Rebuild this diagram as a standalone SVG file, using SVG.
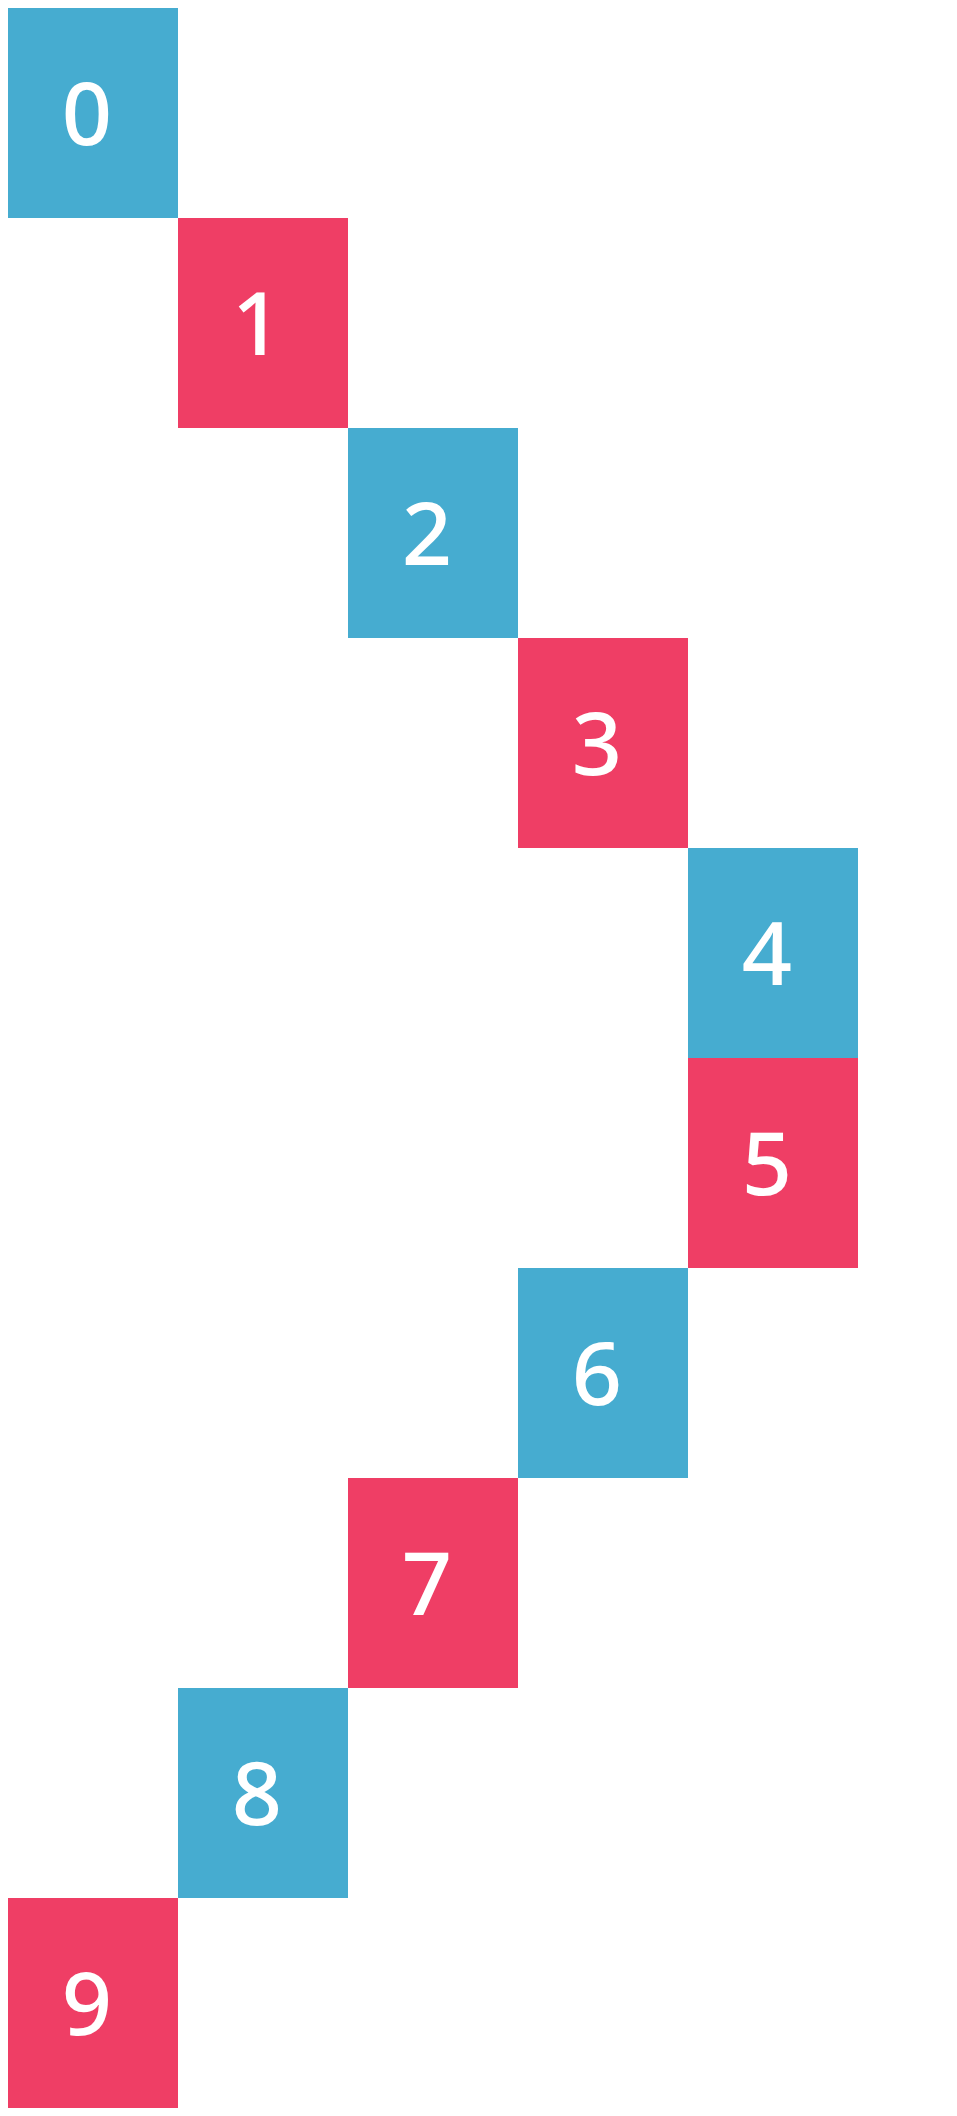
<svg xmlns="http://www.w3.org/2000/svg" width="957" height="2116" viewBox="0 0 957 2116">
<style>
.b{fill:#46acd0}.r{fill:#ef3e65}
text{font-family:"Noto Sans","DejaVu Sans",sans-serif;font-size:88px;font-weight:500;fill:#fff;text-anchor:middle}
</style>
<rect width="957" height="2116" fill="#fff"/>
<g id="node0"><rect class="b" x="8" y="8" width="170" height="210"/><text x="87" y="145">0</text></g>
<g id="node1"><rect class="r" x="178" y="218" width="170" height="210"/><text x="257" y="355">1</text></g>
<g id="node2"><rect class="b" x="348" y="428" width="170" height="210"/><text x="427" y="565">2</text></g>
<g id="node3"><rect class="r" x="518" y="638" width="170" height="210"/><text x="597" y="775">3</text></g>
<g id="node4"><rect class="b" x="688" y="848" width="170" height="210"/><text x="767" y="985">4</text></g>
<g id="node5"><rect class="r" x="688" y="1058" width="170" height="210"/><text x="767" y="1195">5</text></g>
<g id="node6"><rect class="b" x="518" y="1268" width="170" height="210"/><text x="597" y="1405">6</text></g>
<g id="node7"><rect class="r" x="348" y="1478" width="170" height="210"/><text x="427" y="1615">7</text></g>
<g id="node8"><rect class="b" x="178" y="1688" width="170" height="210"/><text x="257" y="1825">8</text></g>
<g id="node9"><rect class="r" x="8" y="1898" width="170" height="210"/><text x="87" y="2035">9</text></g>
<g id="connectors"></g>
</svg>
